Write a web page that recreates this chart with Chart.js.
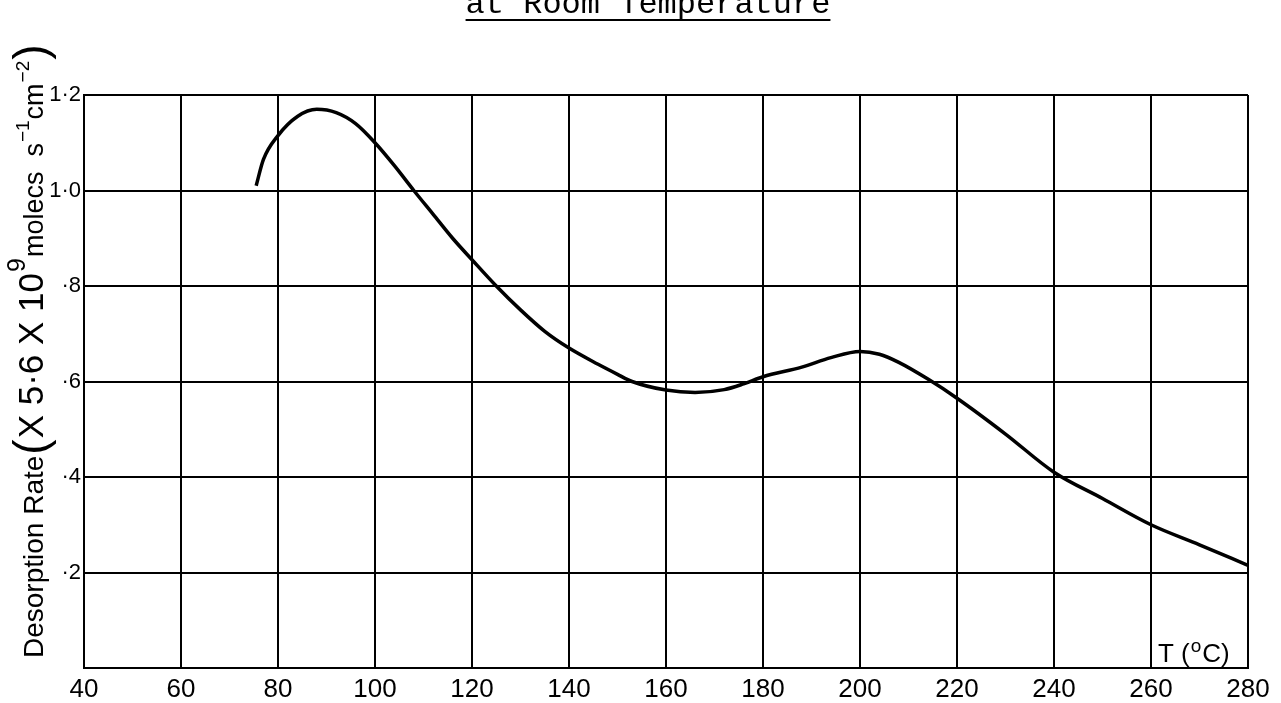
<!DOCTYPE html>
<html>
<head>
<meta charset="utf-8">
<title>Desorption Rate</title>
<script src="https://cdn.jsdelivr.net/npm/chart.js@4.4.1/dist/chart.umd.min.js"></script>
<style>
  html, body { margin: 0; padding: 0; background: #fff; }
  canvas { display: block; }
</style>
</head>
<body>
<canvas id="drChart" width="1281" height="703"></canvas>
<script>
// Desorption curve, temperature in degC
const tempC = [75.5, 77, 80, 84, 88, 92, 96, 100, 104, 108, 112, 116, 120, 125, 130, 135, 140, 146, 150, 153, 160, 166, 172, 176, 180, 188, 194, 200, 204, 208, 214, 220, 230, 240, 250, 260, 270, 280];
const rate = [1.01, 1.065, 1.115, 1.155, 1.17, 1.163, 1.14, 1.10, 1.052, 1.0, 0.95, 0.90, 0.855, 0.80, 0.75, 0.705, 0.67, 0.636, 0.615, 0.60, 0.582, 0.577, 0.583, 0.595, 0.61, 0.63, 0.65, 0.663, 0.657, 0.64, 0.605, 0.565, 0.49, 0.41, 0.355, 0.30, 0.258, 0.215];

// axis labels
const xTickLabels = ['40', '60', '80', '100', '120', '140', '160', '180', '200', '220', '240', '260', '280'];
const yTickLabels = ['', '·2', '·4', '·6', '·8', '1·0', '1·2'];

const SANS = '"Liberation Sans", Arial, Helvetica, sans-serif';

// rotated y title, built from pieces so the exponents can sit raised
const yTitleParts = [
  { text: 'Desorption Rate', size: 28, rise: 0 },
  { text: '(', size: 46, rise: -3 },
  { text: 'X 5·6 X 10', size: 35, rise: 0 },
  { text: '9', size: 25, rise: 18 },
  { text: 'molecs  s', size: 27, rise: 0 },
  { text: '−1', size: 19, rise: 14 },
  { text: 'cm', size: 27, rise: 0 },
  { text: '−2', size: 19, rise: 14 },
  { text: ')', size: 46, rise: -3 }
];

const extraText = {
  id: 'extraText',
  afterDraw(chart) {
    const ctx = chart.ctx;
    ctx.save();
    ctx.fillStyle = '#000';
    ctx.textBaseline = 'alphabetic';
    ctx.textAlign = 'left';

    // y axis title, reading upwards
    ctx.save();
    ctx.translate(43, 658);
    ctx.rotate(-Math.PI / 2);
    let pos = 0;
    yTitleParts.forEach(p => {
      ctx.font = p.size + 'px ' + SANS;
      ctx.fillText(p.text, pos, -p.rise);
      pos += ctx.measureText(p.text).width + 1;
    });
    ctx.restore();

    // x axis unit in the last cell
    let tx = 1158;
    const ty = 662;
    ctx.font = '26px ' + SANS;
    ctx.fillText('T (', tx, ty);
    tx += ctx.measureText('T (').width + 1;
    ctx.font = '19px ' + SANS;
    ctx.fillText('o', tx, ty - 10);
    tx += ctx.measureText('o').width + 1;
    ctx.font = '26px ' + SANS;
    ctx.fillText('C)', tx, ty);

    // heading, cut by the top edge
    ctx.font = '32px "Liberation Mono", "Courier New", monospace';
    ctx.textAlign = 'center';
    const heading = 'at Room Temperature';
    ctx.fillText(heading, 648, 13);
    const hw = ctx.measureText(heading).width;
    ctx.fillRect(648 - hw / 2, 19, hw, 2);
    ctx.restore();
  }
};

new Chart(document.getElementById('drChart').getContext('2d'), {
  type: 'line',
  data: {
    datasets: [{
      data: tempC.map((t, i) => ({ x: t, y: rate[i] })),
      borderColor: '#000',
      borderWidth: 3.5,
      pointRadius: 0,
      fill: false,
      cubicInterpolationMode: 'monotone'
    }]
  },
  options: {
    responsive: false,
    animation: false,
    devicePixelRatio: 1,
    layout: { padding: { top: 95, right: 33, left: 0, bottom: 0 } },
    plugins: { legend: { display: false }, tooltip: { enabled: false }, title: { display: false } },
    scales: {
      x: {
        type: 'linear',
        min: 40,
        max: 280,
        afterFit: s => { s.height = 35; },
        ticks: {
          stepSize: 20,
          autoSkip: false,
          maxRotation: 0,
          padding: 6,
          color: '#000',
          font: { family: SANS, size: 26 },
          callback: (v, i) => xTickLabels[i]
        },
        grid: { color: '#000', lineWidth: 2, drawTicks: false },
        border: { color: '#000', width: 2 }
      },
      y: {
        min: 0,
        max: 1.2,
        afterFit: s => { s.width = 84; },
        ticks: {
          stepSize: 0.2,
          padding: 3,
          color: '#000',
          font: { family: SANS, size: 22 },
          callback: (v, i) => yTickLabels[i]
        },
        grid: { color: '#000', lineWidth: 2, drawTicks: false },
        border: { color: '#000', width: 2 }
      }
    }
  },
  plugins: [extraText]
});
</script>
</body>
</html>
